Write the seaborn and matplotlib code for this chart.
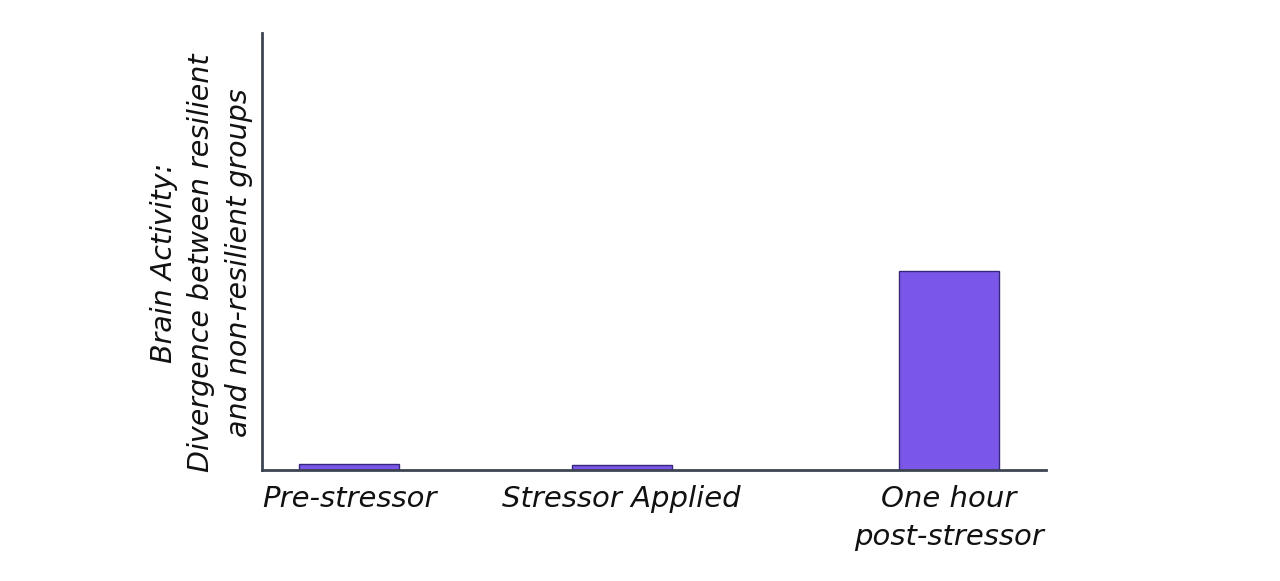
import matplotlib
matplotlib.use("Agg")
import matplotlib.pyplot as plt
import seaborn as sns
import pandas as pd

categories = ["Pre-stressor", "Stressor Applied", "One hour\npost-stressor"]
values = [3.0, 2.5, 100.0]
positions = [0.0, 1.0, 2.2]  # layout: horizontal placement of the bars

y_label = "Brain Activity:\nDivergence between resilient\nand non-resilient groups"

sns.set_theme(style="white")
plt.rcParams['font.family'] = ['DejaVu Sans']

df = pd.DataFrame({"pos": positions, "value": values, "cat": categories})

fig = plt.figure(figsize=(12.8, 5.81), dpi=100)
ax = fig.add_axes([262/1280, 1-470/581, (1046-262)/1280, (470-33)/581])

sns.barplot(data=df, x="pos", y="value", native_scale=True, width=0.366,
            color="#7b57e9", saturation=1, edgecolor="#35287a", linewidth=1.0, ax=ax)

ax.set_xlim(-0.319, 2.2 + 0.355)
ax.set_ylim(0, 220)
ax.set_xticks(positions)
ax.set_xticklabels(categories, fontsize=21, style="italic", color="#111111",
                   linespacing=1.45)
ax.set_yticks([])
ax.tick_params(axis="x", length=0, pad=11)
ax.set_xlabel("")
ax.set_ylabel(y_label, fontsize=20.5, style="italic", color="#111111",
              linespacing=1.45)
ax.yaxis.set_label_coords(-0.011, 0.475)

for s in ["top", "right"]:
    ax.spines[s].set_visible(False)
for s in ["left", "bottom"]:
    ax.spines[s].set_color("#3d4452")
    ax.spines[s].set_linewidth(2)

fig.savefig("out.png", dpi=100)
